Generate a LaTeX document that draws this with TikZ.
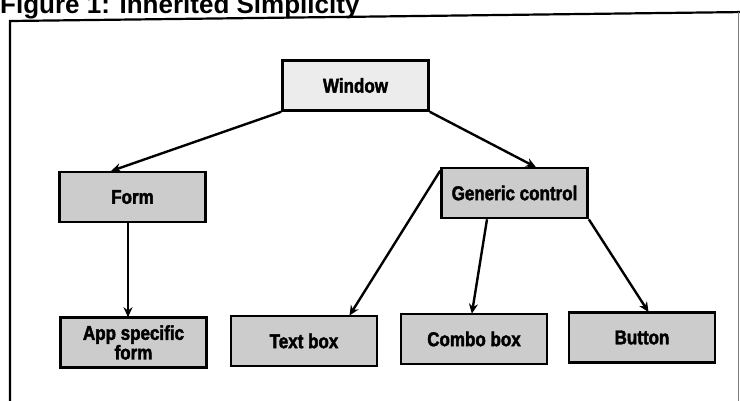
\documentclass[tikz,border=0pt]{standalone}
\usepackage{fontspec}
\setmainfont{Liberation Sans}
\newfontfamily\boxfont[FakeStretch=0.85, BoldFeatures={FakeBold=2}]{Liberation Sans}
\usetikzlibrary{arrows.meta}
\tikzset{
  cls/.style={draw=black, line width=2.6pt, fill=gray!40, minimum width=146pt, minimum height=50pt,
    inner sep=2pt, align=center, font=\boxfont\bfseries\fontsize{20}{15}\selectfont},
  top/.style={cls, fill=gray!15},
  link/.style={draw=black, line width=2.4pt, -{Stealth[length=10pt,width=9pt]}, shorten >=-1pt}
}
\begin{document}
\begin{tikzpicture}[x=1pt,y=-1pt]
\useasboundingbox (0,0) rectangle (740,400);
\fill[white] (0,0) rectangle (740,400);
% title and frame
\node[anchor=base west, inner sep=0pt, font=\bfseries\fontsize{26}{26}\selectfont] (title) at (0,13) {Figure 1: Inherited Simplicity};
\draw[line width=2.2pt] (10,405) -- (10,21) -- (745,12);
\draw[line width=0.8pt, gray] (738,12) -- (738,405);
% nodes
\node[top] (win) at (355.5,85.5) {Window};
\node[cls] (form) at (132.5,197) {Form};
\node[cls] (gen) at (514.5,193) {Generic control};
\node[cls] (app) at (133.5,342.5) {App specific\\form};
\node[cls] (text) at (304,341) {Text box};
\node[cls] (combo) at (474,339) {Combo box};
\node[cls] (btn) at (642,337.5) {Button};
% connectors
\draw[link] (win.south west) -- (form.north west -| 112,0);
\draw[link] (win.south east) -- (gen.north west -| 535,0);
\draw[link] (form.south west -| 128,0) -- (app.north west -| 128,0);
\draw[link] (gen.north west) ++(0,4) coordinate (g1) (g1) -- (text.north west -| 350,0);
\draw[link] (gen.south west -| 487,0) -- (combo.north west -| 472,0);
\draw[link] (gen.south east) -- (btn.north west -| 648,0);
\end{tikzpicture}
\end{document}
